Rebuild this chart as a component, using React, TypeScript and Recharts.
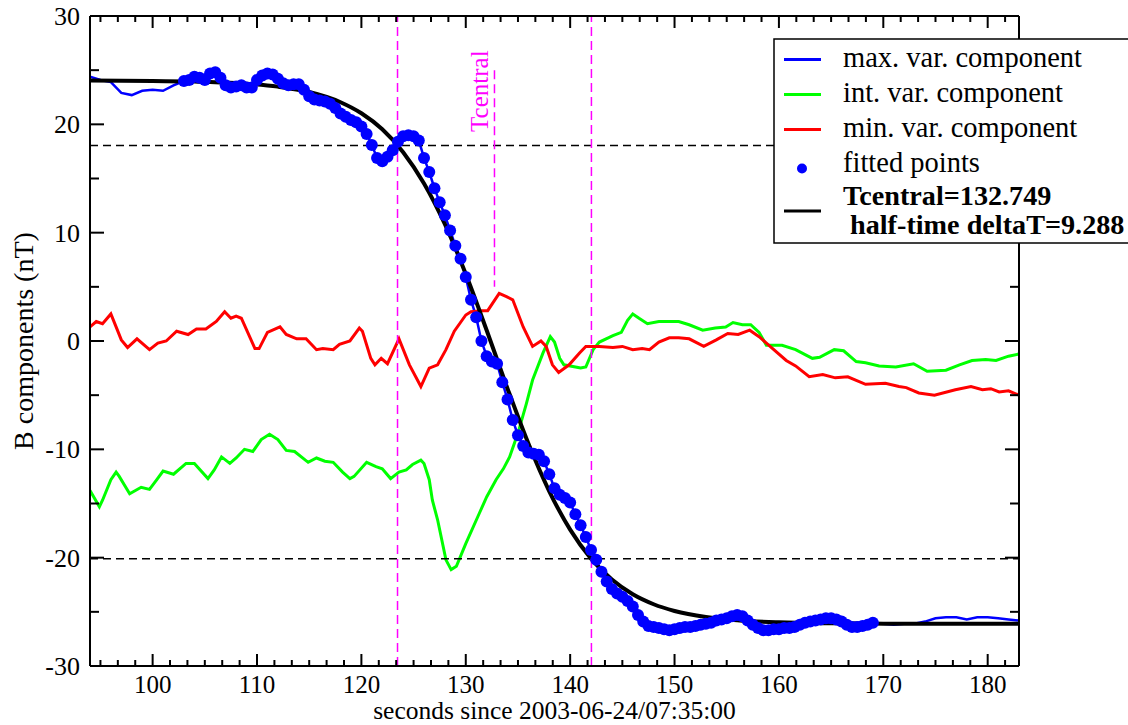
import React from 'react';
import { ComposedChart, Line, XAxis, YAxis, ReferenceLine, Legend, Label } from 'recharts';

const FONT = '"Liberation Serif", "Times New Roman", serif';

// tanh fit parameters
const T_CENTRAL = 132.749;
const HALF_TIME = 9.288;
// fit values at Tcentral -/+ deltaT
const FIT_LEVELS = [18.04, -20.09];
// short marker at Tcentral
const TC_MARK = [25, 5];
// interval of the fitted samples
const FIT_START = 103;
const FIT_END = 169;

const X_DOMAIN: [number, number] = [94, 183];
const Y_DOMAIN: [number, number] = [-30, 30];
const X_MAJOR = [100, 110, 120, 130, 140, 150, 160, 170, 180];
const Y_TICKS = [-30, -25, -20, -15, -10, -5, 0, 5, 10, 15, 20, 25, 30];

// max. variance component [s, nT]
const maxVar: [number, number][] = [
  [94, 24.4], [95, 24.1], [96, 23.9], [97, 22.9], [98, 22.7], [99, 23.1], [100, 23.2],
  [101, 23.1], [102, 23.6], [103, 24.0], [103.5, 24.1], [104, 24.4], [104.5, 24.3],
  [105, 24.1], [105.5, 24.7], [106, 24.8], [106.5, 24.3], [107, 23.6], [107.5, 23.4],
  [108, 23.5], [108.5, 23.6], [109, 23.4], [109.5, 23.4], [110, 24.1], [110.5, 24.5],
  [111, 24.7], [111.5, 24.6], [112, 24.2], [112.5, 23.8], [113, 23.6], [113.5, 23.7],
  [114, 23.7], [114.5, 23.2], [115, 22.6], [115.5, 22.3], [116, 22.2], [116.5, 22.1],
  [117, 21.9], [117.5, 21.5], [118, 21.0], [118.5, 20.7], [119, 20.4], [119.5, 20.2],
  [120, 19.8], [120.5, 19.1], [121, 18.1], [121.5, 16.9], [122, 16.6], [122.5, 17.0],
  [123, 17.6], [123.5, 18.4], [124, 18.9], [124.5, 19.0], [125, 18.9], [125.5, 18.5],
  [126, 16.9], [126.5, 15.6], [127, 14.1], [127.5, 12.8], [128, 11.6], [128.5, 10.2],
  [129, 8.8], [129.5, 7.6], [130, 5.9], [130.5, 3.8], [131, 2.2], [131.5, 0.0],
  [132, -1.4], [132.5, -1.9], [133, -2.1], [133.5, -3.8], [134, -5.4], [134.5, -7.3],
  [135, -8.7], [135.5, -9.7], [136, -10.3], [136.5, -10.4], [137, -10.5], [137.5, -11.1],
  [138, -12.3], [138.5, -13.6], [139, -14.2], [139.5, -14.5], [140, -14.9], [140.5, -16.0],
  [141, -17.0], [141.5, -18.1], [142, -19.3], [142.5, -20.2], [143, -21.3], [143.5, -22.2],
  [144, -22.9], [144.5, -23.3], [145, -23.6], [145.5, -24.0], [146, -24.5], [146.5, -25.3],
  [147, -25.9], [147.5, -26.3], [148, -26.4], [148.5, -26.5], [149, -26.6], [149.5, -26.7],
  [150, -26.6], [150.5, -26.5], [151, -26.4], [151.5, -26.4], [152, -26.3], [152.5, -26.2],
  [153, -26.1], [153.5, -26.0], [154, -25.8], [154.5, -25.7], [155, -25.6], [155.5, -25.4],
  [156, -25.3], [156.5, -25.4], [157, -25.8], [157.5, -26.2], [158, -26.5], [158.5, -26.7],
  [159, -26.7], [159.5, -26.6], [160, -26.6], [160.5, -26.5], [161, -26.5], [161.5, -26.4],
  [162, -26.2], [162.5, -26.0], [163, -25.9], [163.5, -25.8], [164, -25.7], [164.5, -25.6],
  [165, -25.6], [165.5, -25.7], [166, -25.9], [166.5, -26.2], [167, -26.4], [167.5, -26.4],
  [168, -26.3], [168.5, -26.2], [169, -26.0], [170, -26.1], [171, -26.2], [172, -26.1],
  [173, -26.1], [174, -25.9], [175, -25.6], [176, -25.5], [177, -25.5], [178, -25.7],
  [179, -25.5], [180, -25.5], [181, -25.6], [182, -25.7], [183, -25.8],
];

// intermediate variance component [s, nT]
const intVar: [number, number][] = [
  [94, -13.8], [94.9, -15.3], [95.2, -14.7], [96, -12.8], [96.5, -12.1], [96.8, -12.5],
  [97.8, -14.1], [98.9, -13.5], [99.7, -13.7], [100.4, -12.8], [101, -12.0], [102, -12.3],
  [103.2, -11.3], [104, -11.3], [105.3, -12.7], [105.9, -11.9], [106.6, -10.7], [107.4, -11.3],
  [108, -10.8], [108.8, -10.0], [109.6, -10.2], [110.4, -9.1], [111.2, -8.6], [112, -9.1],
  [112.8, -10.1], [113.6, -10.2], [114.9, -11.2], [115.7, -10.8], [116.5, -11.1], [117.3, -11.2],
  [118.2, -12.1], [118.9, -12.7], [119.3, -12.5], [120.5, -11.2], [121.4, -11.6], [122, -11.8],
  [122.8, -12.7], [123.6, -12.1], [124.3, -11.9], [124.9, -11.4], [125.7, -11.0], [126, -11.3],
  [126.5, -12.8], [126.8, -14.7], [127.3, -16.5], [128.1, -20.2], [128.6, -21.1], [129.1, -20.8],
  [130, -18.7], [131.3, -15.9], [132, -14.4], [132.9, -12.8], [133.6, -11.8], [134.2, -10.7],
  [135, -8.5], [135.8, -5.8], [136.4, -3.6], [137.4, -1.1], [138.1, 0.4], [138.5, -0.1],
  [139, -1.6], [139.4, -2.2], [141, -2.5], [141.5, -2.4], [142.2, -0.8], [142.8, -0.1],
  [144.1, 0.5], [144.9, 0.8], [145.5, 1.9], [146, 2.5], [146.6, 2.1], [147.4, 1.6],
  [148.5, 1.8], [149.5, 1.8], [150.4, 1.8], [151.4, 1.5], [152.7, 1.0], [153.9, 1.2],
  [154.9, 1.3], [155.6, 1.7], [156.5, 1.5], [157.3, 1.5], [158.1, 0.8], [158.8, -0.4],
  [160.3, -0.4], [161.6, -0.8], [163.2, -1.6], [163.9, -1.5], [165.3, -0.8], [166.2, -0.9],
  [167.4, -1.9], [168.3, -2.0], [169.6, -2.3], [171.2, -2.4], [172.9, -2.1], [174.2, -2.8],
  [176, -2.7], [177.3, -2.2], [178.5, -1.8], [179.8, -1.7], [180.8, -1.8], [182, -1.4],
  [183, -1.2],
];

// min. variance component [s, nT]
const minVar: [number, number][] = [
  [94, 1.3], [94.6, 1.8], [95.2, 1.6], [96, 2.5], [96.5, 1.3], [97, 0.1], [97.6, -0.6],
  [98.5, 0.2], [99.7, -0.8], [100.5, -0.2], [101.3, 0.0], [102.3, 0.9], [103.4, 0.6],
  [104.2, 1.1], [105.1, 1.1], [106.1, 1.8], [106.9, 2.7], [107.5, 2.1], [108, 2.3],
  [108.5, 2.1], [109.8, -0.7], [110.2, -0.7], [111, 0.8], [112.2, 1.3], [112.8, 0.6],
  [113.8, 0.2], [114.7, 0.2], [115.7, -0.8], [116.3, -0.7], [117.3, -0.8], [117.9, -0.3],
  [118.9, 0.0], [119.8, 1.2], [120.1, 0.9], [120.9, -1.6], [121.3, -2.2], [121.9, -1.6],
  [122.5, -2.1], [123.6, 0.2], [124.6, -2.2], [125.7, -4.2], [126.5, -2.5], [127.3, -2.2],
  [128.1, -0.8], [128.9, 0.9], [130, 2.4], [130.5, 2.7], [131.5, 2.8], [132.1, 2.8],
  [133.2, 4.4], [133.9, 4.1], [134.5, 3.8], [135.5, 1.3], [136.4, -0.5], [137.2, 0.0],
  [137.7, -0.5], [138.3, -2.2], [138.9, -2.9], [139.9, -2.2], [140.9, -1.1], [141.5, -0.5],
  [142.8, -0.5], [144.1, -0.6], [145, -0.5], [146, -0.8], [146.9, -0.7], [147.6, -0.8],
  [148.5, -0.1], [149.5, 0.3], [150.4, 0.3], [151.4, 0.2], [152.8, -0.5], [154, 0.1],
  [155.1, 0.7], [156.1, 0.6], [157.2, 1.0], [158.1, 0.4], [159.4, -0.7], [160.7, -1.8],
  [161.6, -2.3], [162.9, -3.3], [164.2, -3.1], [165.4, -3.4], [166.6, -3.3], [168.3, -4.0],
  [170.2, -3.9], [171.5, -4.2], [172.2, -4.3], [173.4, -4.8], [174.9, -5.0], [176.9, -4.5],
  [178.4, -4.2], [179.5, -4.5], [180.3, -4.4], [181.1, -4.7], [182, -4.6], [183, -5.0],
];

// tanh fit curve [s, nT]
const fitCurve: [number, number][] = [
  [94, 24.04], [100, 24.01], [104, 23.95], [108, 23.81], [112, 23.48], [115, 22.98],
  [118, 22.04], [120, 21.02], [122, 19.54], [124, 17.43], [126, 14.54], [128, 10.78],
  [130, 6.18], [132, 0.99], [134, -4.39], [136, -9.47], [138, -13.87], [140, -17.41],
  [142, -20.09], [144, -22.02], [146, -23.38], [148, -24.3], [150, -24.92], [153, -25.48],
  [156, -25.78], [160, -25.97], [165, -26.06], [170, -26.09], [176, -26.11], [183, -26.11],
];

const legendNames = [
  'max. var. component',
  'int. var. component',
  'min. var. component',
  'fitted points',
];
const legendColors = ['#0000ff', '#00ff00', '#ff0000', '#0000ff'];

const rows = (pts: [number, number][]) => pts.map(([t, v]) => ({ t, v }));
const maxRows = rows(maxVar);
const fitPoints = maxRows.filter((d) => d.t >= FIT_START && d.t <= FIT_END);

// minor x ticks split each decade into six
const xTicks: number[] = [];
for (let i = -3; i <= 50; i++) {
  const v = +(100 + (i * 10) / 6).toFixed(4);
  if (v >= X_DOMAIN[0] && v <= X_DOMAIN[1]) xTicks.push(v);
}
const isMajorX = (v: number) => X_MAJOR.includes(v);
const isMajorY = (v: number) => v % 10 === 0;

const BottomTick = (p: any) => {
  const major = isMajorX(p.payload.value);
  return (
    <g>
      <line x1={p.x} x2={p.x} y1={p.y} y2={p.y - (major ? 12 : 6)} stroke="#000" strokeWidth={2} />
      {major && (
        <text x={p.x} y={p.y + 27} textAnchor="middle" fontSize={25} fontFamily={FONT} fill="#000">
          {p.payload.value}
        </text>
      )}
    </g>
  );
};

const TopTick = (p: any) => {
  const major = isMajorX(p.payload.value);
  return <line x1={p.x} x2={p.x} y1={p.y} y2={p.y + (major ? 12 : 6)} stroke="#000" strokeWidth={2} />;
};

const LeftTick = (p: any) => {
  const major = isMajorY(p.payload.value);
  return (
    <g>
      <line x1={p.x} x2={p.x + (major ? 14 : 9)} y1={p.y} y2={p.y} stroke="#000" strokeWidth={2} />
      {major && (
        <text x={p.x - 10} y={p.y} dy="0.35em" textAnchor="end" fontSize={26} fontFamily={FONT} fill="#000">
          {p.payload.value}
        </text>
      )}
    </g>
  );
};

const RightTick = (p: any) => {
  const major = isMajorY(p.payload.value);
  return <line x1={p.x} x2={p.x - (major ? 14 : 9)} y1={p.y} y2={p.y} stroke="#000" strokeWidth={2} />;
};

const XTitle = (p: any) => {
  const vb = p.viewBox;
  return (
    <text x={vb.x + vb.width / 2} y={vb.y + 53} textAnchor="middle" fontSize={25.5} fontFamily={FONT} fill="#000">
      seconds since 2003-06-24/07:35:00
    </text>
  );
};

const YTitle = (p: any) => {
  const vb = p.viewBox;
  const x = vb.x + 33;
  const y = vb.y + vb.height / 2;
  return (
    <text x={x} y={y} transform={`rotate(-90, ${x}, ${y})`} textAnchor="middle" fontSize={28} fontFamily={FONT} fill="#000">
      B components (nT)
    </text>
  );
};

const TcentralLabel = (p: any) => {
  const vb = p.viewBox;
  const x = vb.x - 6;
  const y = vb.y + 21;
  return (
    <text x={x} y={y} transform={`rotate(-90, ${x}, ${y})`} textAnchor="middle" fontSize={25} fontFamily={FONT} fill="#ff00ff">
      Tcentral
    </text>
  );
};

const LegendBox = () => (
  <svg width={355} height={206} style={{ display: 'block' }}>
    <rect x={1} y={1} width={420} height={204} fill="#fff" stroke="#000" strokeWidth={1.5} />
    {legendNames.map((name, i) => {
      const cy = 21.5 + i * 35;
      return (
        <g key={name}>
          {i < 3 ? (
            <line x1={11} x2={48} y1={cy} y2={cy} stroke={legendColors[i]} strokeWidth={3} />
          ) : (
            <circle cx={29} cy={cy + 4} r={5} fill={legendColors[i]} />
          )}
          <text x={70} y={cy + 7} fontSize={28.5} fontFamily={FONT} fill="#000">
            {name}
          </text>
        </g>
      );
    })}
    <line x1={11} x2={48} y1={173} y2={173} stroke="#000" strokeWidth={3} />
    <text x={70} y={167} fontSize={28.2} fontWeight="bold" fontFamily={FONT} fill="#000">
      {`Tcentral=${T_CENTRAL}`}
    </text>
    <text x={77} y={196} fontSize={28.2} fontWeight="bold" fontFamily={FONT} fill="#000">
      {`half-time deltaT=${HALF_TIME}`}
    </text>
  </svg>
);

const axisLine = { stroke: '#000', strokeWidth: 2 };

export default function App() {
  return (
    <div style={{ position: 'absolute', left: 0, top: 0, background: '#fff' }}>
      <ComposedChart width={1128} height={725} margin={{ top: 0, right: 0, bottom: 0, left: 0 }}>
        <XAxis
          xAxisId="b"
          dataKey="t"
          type="number"
          domain={X_DOMAIN}
          ticks={xTicks}
          interval={0}
          height={59}
          tickSize={0}
          tickMargin={0}
          tickLine={false}
          axisLine={axisLine}
          tick={(p: any) => <BottomTick {...p} />}
          allowDataOverflow
        >
          <Label content={XTitle} />
        </XAxis>
        <XAxis
          xAxisId="t"
          orientation="top"
          dataKey="t"
          type="number"
          domain={X_DOMAIN}
          ticks={xTicks}
          interval={0}
          height={16}
          tickSize={0}
          tickMargin={0}
          tickLine={false}
          axisLine={axisLine}
          tick={(p: any) => <TopTick {...p} />}
          allowDataOverflow
        />
        <YAxis
          yAxisId="l"
          type="number"
          domain={Y_DOMAIN}
          ticks={Y_TICKS}
          interval={0}
          width={90}
          tickSize={0}
          tickMargin={0}
          tickLine={false}
          axisLine={axisLine}
          tick={(p: any) => <LeftTick {...p} />}
          allowDataOverflow
        >
          <Label content={YTitle} />
        </YAxis>
        <YAxis
          yAxisId="r"
          orientation="right"
          type="number"
          domain={Y_DOMAIN}
          ticks={Y_TICKS}
          interval={0}
          width={109}
          tickSize={0}
          tickMargin={0}
          tickLine={false}
          axisLine={axisLine}
          tick={(p: any) => <RightTick {...p} />}
          allowDataOverflow
        />

        <Line xAxisId="b" yAxisId="l" data={maxRows} dataKey="v" type="linear" stroke="#0000ff" strokeWidth={2.5} dot={false} isAnimationActive={false} />
        <Line xAxisId="b" yAxisId="l" data={rows(intVar)} dataKey="v" type="linear" stroke="#00ff00" strokeWidth={3} dot={false} isAnimationActive={false} />
        <Line xAxisId="b" yAxisId="l" data={rows(minVar)} dataKey="v" type="linear" stroke="#ff0000" strokeWidth={3} dot={false} isAnimationActive={false} />
        <Line
          xAxisId="b"
          yAxisId="l"
          data={fitPoints}
          dataKey="v"
          stroke="none"
          dot={{ r: 6, fill: '#0000ff', stroke: 'none' }}
          isAnimationActive={false}
        />
        <Line xAxisId="b" yAxisId="l" data={rows(fitCurve)} dataKey="v" type="monotone" stroke="#000" strokeWidth={4} dot={false} isAnimationActive={false} />

        <ReferenceLine xAxisId="b" yAxisId="l" y={FIT_LEVELS[0]} stroke="#000" strokeWidth={1.5} strokeDasharray="8 5" />
        <ReferenceLine xAxisId="b" yAxisId="l" y={FIT_LEVELS[1]} stroke="#000" strokeWidth={1.5} strokeDasharray="8 5" />
        <ReferenceLine xAxisId="b" yAxisId="l" x={T_CENTRAL - HALF_TIME} stroke="#ff00ff" strokeWidth={1.5} strokeDasharray="9 5" />
        <ReferenceLine xAxisId="b" yAxisId="l" x={T_CENTRAL + HALF_TIME} stroke="#ff00ff" strokeWidth={1.5} strokeDasharray="9 5" />
        <ReferenceLine
          xAxisId="b"
          yAxisId="l"
          segment={[{ x: T_CENTRAL, y: TC_MARK[0] }, { x: T_CENTRAL, y: TC_MARK[1] }]}
          stroke="#ff00ff"
          strokeWidth={1.5}
          strokeDasharray="9 5"
          label={TcentralLabel}
        />

        <Legend
          layout="horizontal"
          align="center"
          verticalAlign="middle"
          content={() => <LegendBox />}
          wrapperStyle={{ left: 773, top: 38, width: 355, height: 206 }}
        />
      </ComposedChart>
    </div>
  );
}
